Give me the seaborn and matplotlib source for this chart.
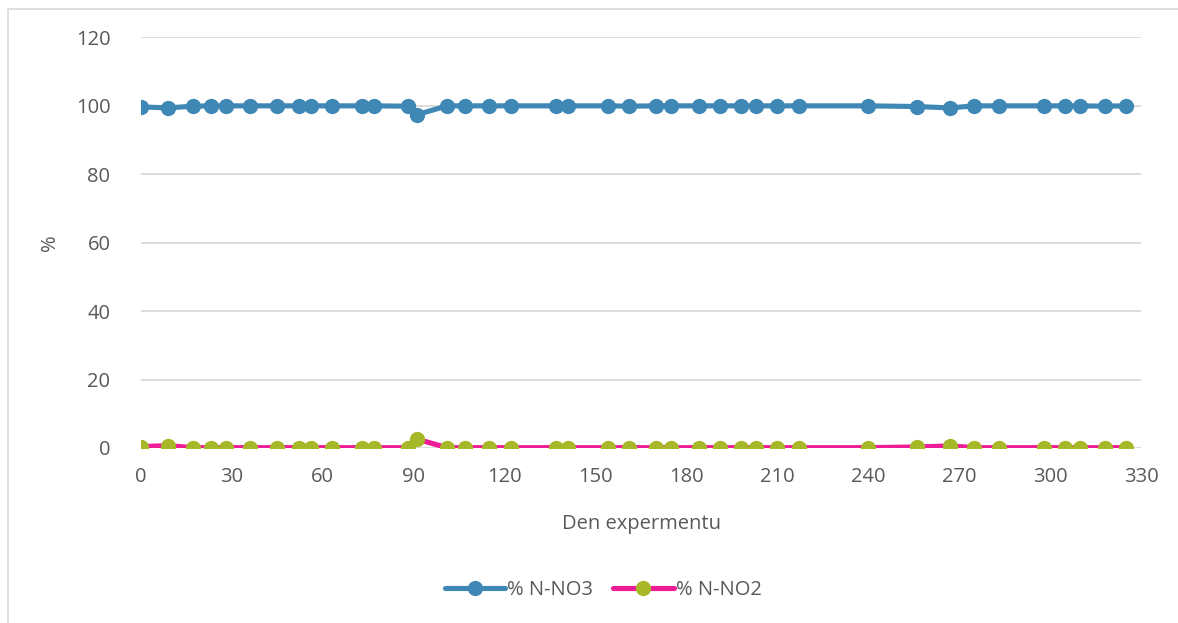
import pandas as pd
import matplotlib
matplotlib.use("Agg")
import matplotlib.pyplot as plt
import seaborn as sns
from matplotlib.patches import Rectangle

# --- Data ---
days = [0, 9, 17, 23, 28, 36, 45, 52, 56, 63, 73, 77, 88, 91, 101, 107, 115, 122,
        137, 141, 154, 161, 170, 175, 184, 191, 198, 203, 210, 217, 240, 256, 267,
        275, 283, 298, 305, 310, 318, 325]
pct_no3 = [99.6, 99.3, 99.8, 99.9, 99.9, 99.9, 99.9, 99.9, 99.9, 99.9, 99.9, 99.9, 99.8, 97.3,
           99.9, 99.9, 99.9, 99.9, 99.9, 99.9, 99.9, 99.8, 99.9, 99.9, 99.9, 99.9, 99.9, 99.9,
           99.9, 99.9, 99.9, 99.7, 99.3, 99.9, 99.9, 99.9, 99.9, 99.9, 99.8, 99.9]
pct_no2 = [0.4, 0.7, 0.1, 0.1, 0.1, 0.1, 0.1, 0.1, 0.1, 0.1, 0.1, 0.1, 0.1, 2.6,
           0.1, 0.1, 0.1, 0.1, 0.1, 0.1, 0.1, 0.1, 0.1, 0.1, 0.1, 0.1, 0.1, 0.1,
           0.1, 0.1, 0.1, 0.3, 0.6, 0.1, 0.1, 0.1, 0.1, 0.1, 0.1, 0.1]
x_ticks = list(range(0, 331, 30))
y_ticks = list(range(0, 121, 20))

df = pd.DataFrame({"den": days, "no3": pct_no3, "no2": pct_no2})

# --- Style ---
sns.set_style("white")
plt.rcParams["font.family"] = ["Open Sans", "DejaVu Sans"]
text_col = "#595959"
grid_col = "#D9D9D9"

fig = plt.figure(figsize=(11.78, 6.23), dpi=100)
ax = fig.add_axes([0.1197, 0.2809, 0.8489, 0.6597])

sns.lineplot(data=df, x="den", y="no3", ax=ax, color="#3F88B5", linewidth=3.7,
             marker="o", markersize=11, markeredgewidth=0, label="% N-NO3", zorder=3)
sns.lineplot(data=df, x="den", y="no2", ax=ax, color="#EE1C96", linewidth=3.7,
             marker="o", markersize=11, markerfacecolor="#A6B727",
             markeredgewidth=0, label="% N-NO2", zorder=3)

ax.set_xlim(0, 330)
ax.set_ylim(0, 120)
ax.set_xticks(x_ticks)
ax.set_yticks(y_ticks)
ax.yaxis.grid(True, color=grid_col, linewidth=1.3)
ax.set_axisbelow(True)
for s in ax.spines.values():
    s.set_visible(False)
ax.tick_params(axis="both", length=0, labelsize=14.5, colors=text_col)
ax.tick_params(axis="x", pad=14)
ax.tick_params(axis="y", pad=22)
ax.set_xlabel("Den expermentu", fontsize=14.5, color=text_col)
ax.set_ylabel("%", fontsize=14.5, color=text_col)
ax.xaxis.set_label_coords(0.5, -0.16)
ax.yaxis.set_label_coords(-0.081, 0.5)

ax.legend(loc="center", bbox_to_anchor=(0.462, -0.345), ncol=2, frameon=False,
          fontsize=14.5, labelcolor=text_col, handlelength=3.0, columnspacing=1.0,
          handletextpad=0.1)

# chart area border (runs off right/bottom like the reference)
fig.patches.append(Rectangle((0.0068, -0.02), 1.1, 1.0056, transform=fig.transFigure,
                             fill=False, edgecolor=grid_col, linewidth=1.2))

fig.savefig("out.png", dpi=100)
